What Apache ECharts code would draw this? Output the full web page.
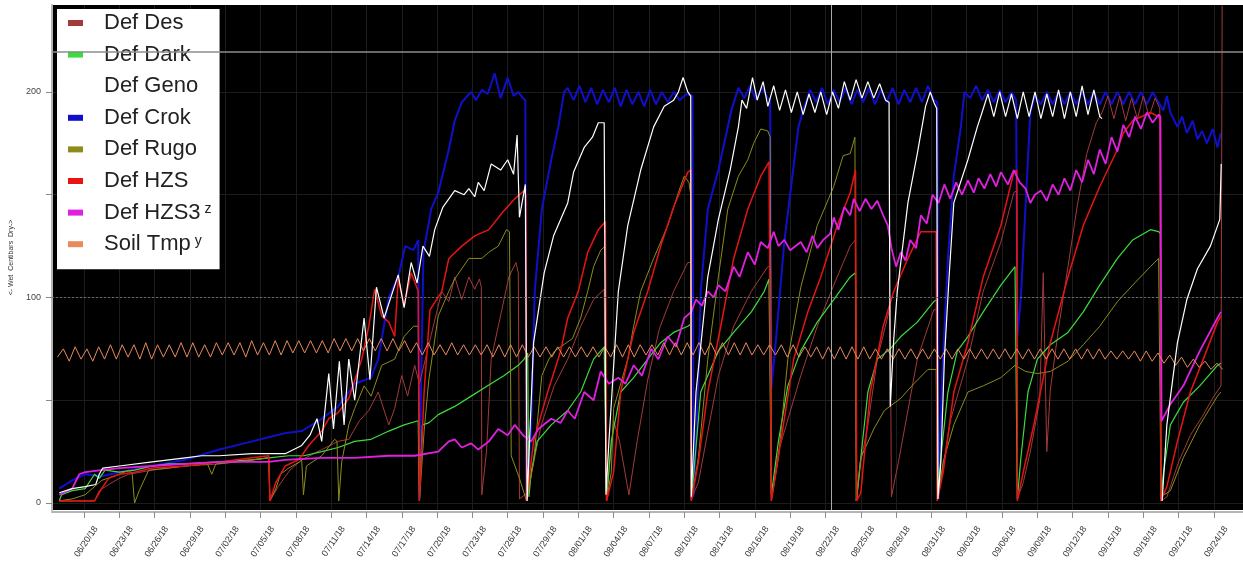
<!DOCTYPE html>
<html>
<head>
<meta charset="utf-8">
<script src="https://cdn.jsdelivr.net/npm/echarts@6/dist/echarts.min.js"></script>
<style>
html, body { margin: 0; padding: 0; background: #fff; }
#tension { width: 1243px; height: 562px; }
</style>
</head>
<body>
<div id="tension"></div>
<script>
// x values are days counted from 06/20/18 00:00, y values are centibars

var tickLabels = [
    '06/20/18','06/23/18','06/26/18','06/29/18','07/02/18','07/05/18','07/08/18',
    '07/11/18','07/14/18','07/17/18','07/20/18','07/23/18','07/26/18','07/29/18',
    '08/01/18','08/04/18','08/07/18','08/10/18','08/13/18','08/16/18','08/19/18',
    '08/22/18','08/25/18','08/28/18','08/31/18','09/03/18','09/06/18','09/09/18',
    '09/12/18','09/15/18','09/18/18','09/21/18','09/24/18'
];

var seriesNames = ['Def Des', 'Def Dark', 'Def Geno', 'Def Crok', 'Def Rugo', 'Def HZS', 'Def HZS3', 'Soil Tmp'];

var desData = [
    [-2.1,1],[0.9,1],[1.3,6],[2.1,9],[3.0,12],[3.8,14],[5.8,16],[8.6,18],[11.5,19],[14.3,21],[15.7,22],[15.8,1],
    [16.5,8],[17.5,16],[18.5,21],[20.2,26],[21.6,30],[22.5,31],[23.4,40],[24.2,45],[25.0,54],[25.9,38],[26.4,46],
    [27.0,62],[27.5,52],[28.1,67],[28.5,58],[29.3,77],[30.4,103],[31.0,98],[31.5,110],[32.1,99],[32.7,110],[33.2,104],
    [33.6,109],[33.76,105],[33.8,4],[34.2,25],[34.6,70],[35.5,94],[36.1,110],[36.7,117],[36.9,112],[37.0,2],[37.7,5],
    [38.85,38],[39.95,57],[41.1,70],[42.2,86],[43.3,99],[44.2,104],[44.36,104],[44.4,2],[45.0,40],[45.5,30],[46.3,4],
    [47.0,30],[47.9,60],[48.9,85],[50.1,103],[51.3,117],[51.55,117],[51.6,2],[52.2,10],[53.9,62],[55.2,86],[56.7,103],
    [58.1,115],[58.35,115],[58.4,2],[59.0,25],[60.9,62],[62.3,86],[63.7,106],[65.1,125],[65.55,128],[65.65,2],[66.0,20],
    [66.6,38],[67.4,70],[68.3,91],[68.5,96],[68.6,3],[69.2,20],[70.8,70],[72.2,94],[72.5,94],[72.55,2],[73.6,40],
    [75.1,70],[76.4,103],[77.9,127],[79.0,151],[79.25,152],[79.3,2],[79.8,10],[80.4,25],[81.2,50],[81.5,112],[81.8,25],
    [82.1,55],[82.8,85],[83.6,115],[84.4,145],[85.2,170],[86.0,185],[86.5,190],[87.0,198],[87.5,187],[88.0,198],
    [88.5,186],[89.0,197],[89.5,187],[90.0,198],[90.5,188],[91.0,197],[91.4,192],[91.5,1],[92.0,3],[93.0,20],[94.0,33],
    [95.0,42],[96.0,52],[96.6,57],[96.7,242]
];

var darkData = [
    [-2.1,1],[-1.9,4],[-1.0,6],[0.1,7],[0.9,14],[1.3,12],[1.8,16],[3.0,15],[4.3,16],[5.8,18],[7.2,19],[8.6,19],
    [11.5,20],[14.3,21],[15.7,22],[17.4,23],[18.7,23],[20.2,25],[21.6,27],[23.0,30],[24.4,31],[25.9,35],[27.2,38],
    [28.4,40],[28.5,1],[28.75,38],[29.3,39],[30.1,43],[31.5,47],[32.9,52],[34.3,57],[35.7,62],[36.9,67],[37.4,70],
    [37.7,73],[37.8,3],[38.0,15],[38.5,30],[39.7,38],[41.1,45],[42.2,54],[43.3,70],[44.2,76],[44.35,76],[44.4,2],
    [44.8,30],[45.6,54],[46.7,61],[47.9,70],[49.0,78],[50.1,83],[51.3,86],[51.55,87],[51.6,2],[51.8,14],[52.4,54],
    [53.9,74],[55.2,83],[56.7,93],[57.8,103],[58.2,109],[58.35,109],[58.4,4],[59.0,30],[59.8,57],[60.9,74],[62.3,88],
    [63.7,99],[65.1,110],[65.55,112],[65.65,2],[66.0,22],[66.6,54],[67.4,70],[68.5,75],[69.4,81],[70.8,88],[72.2,98],
    [72.5,99],[72.55,2],[72.8,22],[73.4,54],[74.2,74],[75.1,81],[76.4,93],[77.9,106],[79.1,115],[79.25,115],[79.3,2],
    [79.6,22],[80.2,54],[81.0,70],[82.1,77],[83.6,83],[84.9,93],[86.3,106],[87.8,119],[89.1,128],[90.6,133],[91.3,132],
    [91.45,131],[91.5,2],[91.7,14],[92.3,38],[93.4,49],[94.8,57],[96.3,67],[96.6,68]
];

var genoData = [
    [-2.1,5],[-1.0,7],[0.1,8],[1.0,9],[1.3,14],[1.6,17],[3.0,18],[5.8,20],[8.6,22],[10.0,23],[11.5,23],[14.3,24],
    [17.1,24],[18.5,28],[19.2,33],[19.8,41],[20.2,30],[20.8,63],[21.2,36],[21.7,69],[22.1,38],[22.5,70],[23.0,50],
    [23.8,90],[24.3,60],[24.85,105],[25.5,90],[26.7,111],[27.2,95],[27.8,117],[28.3,107],[28.8,125],[29.35,120],
    [29.8,133],[30.5,144],[31.5,152],[32.3,150],[32.7,153],[33.2,149],[33.5,156],[34.0,152],[34.6,165],[35.4,162],
    [36.0,167],[36.5,160],[36.8,179],[37.0,139],[37.5,155],[37.65,1],[38.2,78],[39.1,112],[39.9,130],[41.1,146],
    [41.6,161],[42.5,173],[43.2,178],[43.7,185],[44.2,185],[44.35,4],[44.6,30],[45.4,103],[46.2,135],[47.3,162],
    [48.4,183],[49.3,193],[50.1,196],[50.5,200],[50.9,207],[51.3,200],[51.55,198],[51.6,3],[52.0,54],[53.0,110],
    [53.9,138],[54.9,162],[55.6,183],[55.9,196],[56.3,192],[56.8,207],[57.2,196],[57.7,205],[58.1,193],[58.6,203],
    [59.1,191],[59.6,201],[60.1,190],[60.6,200],[61.1,189],[61.6,199],[62.1,190],[62.6,200],[63.1,189],[63.6,200],
    [64.1,192],[64.6,205],[65.1,196],[65.6,206],[66.1,197],[66.6,205],[67.1,197],[67.6,204],[68.1,196],[68.4,195],
    [68.5,47],[68.8,80],[69.1,103],[70.0,146],[70.8,170],[71.5,193],[71.9,200],[72.2,195],[72.45,192],[72.55,2],
    [72.8,20],[73.1,70],[73.5,110],[73.9,146],[75.1,167],[75.9,183],[76.3,190],[76.8,199],[77.3,188],[77.8,200],
    [78.3,188],[78.8,199],[79.3,187],[79.8,200],[80.3,188],[80.8,200],[81.3,187],[81.8,199],[82.3,188],[82.8,201],
    [83.3,187],[83.8,200],[84.3,188],[84.8,203],[85.3,189],[85.8,201],[86.3,188],[86.5,187],[88,'-'],[91.6,1],
    [92.0,38],[92.9,78],[93.7,99],[94.6,114],[95.7,125],[96.5,138],[96.62,165]
];

var crokData = [
    [-2.1,7],[-1.0,11],[0.1,14],[1.5,13],[3.0,15],[5.8,18],[8.6,21],[11.5,26],[14.3,30],[15.7,32],[17.1,34],
    [18.5,35],[20.2,41],[21.6,47],[23.0,58],[24.4,61],[25.0,70],[25.9,100],[26.7,110],[27.3,125],[28.0,123],
    [28.4,128],[28.5,2],[28.65,60],[28.85,122],[29.5,143],[30.1,151],[31.0,172],[31.5,186],[32.1,195],[32.9,200],
    [33.3,196],[33.8,201],[34.3,199],[34.9,209],[35.4,197],[36.0,207],[36.5,198],[36.9,200],[37.3,197],[37.5,196],
    [37.6,2],[38.0,38],[38.3,103],[38.9,143],[39.7,167],[40.3,183],[40.8,200],[41.1,202],[41.6,196],[42.1,203],
    [42.6,195],[43.1,202],[43.6,194],[44.1,201],[44.6,195],[45.1,202],[45.6,193],[46.1,201],[46.6,194],[47.1,200],
    [47.6,193],[48.1,201],[48.6,194],[49.1,200],[49.6,195],[50.1,200],[50.6,196],[51.2,199],[51.7,198],[51.8,3],
    [52.2,60],[52.4,103],[53.0,143],[53.9,162],[55.0,191],[55.6,202],[56.1,197],[56.6,203],[57.1,196],[57.6,202],
    [58.1,197],[58.3,196],[58.4,56],[58.8,80],[59.5,127],[60.7,183],[61.2,193],[61.7,201],[62.2,195],[62.7,202],
    [63.2,194],[63.7,201],[64.2,195],[64.7,202],[65.2,194],[65.7,201],[66.2,195],[66.7,202],[67.2,194],[67.7,201],
    [68.2,195],[68.7,202],[69.2,194],[69.7,201],[70.2,195],[70.7,202],[71.2,195],[71.7,203],[72.2,196],[72.5,195],
    [72.6,2],[72.9,60],[73.4,119],[73.9,159],[74.5,183],[74.8,200],[75.3,197],[75.8,203],[76.3,196],[76.8,201],
    [77.3,195],[77.8,201],[78.3,195],[78.8,200],[79.2,196],[79.3,81],[79.6,100],[80.4,190],[80.8,198],[81.3,194],
    [81.8,200],[82.3,194],[82.8,200],[83.3,194],[83.8,200],[84.3,194],[84.8,200],[85.3,194],[85.8,200],[86.3,194],
    [86.8,200],[87.3,194],[87.8,200],[88.3,194],[88.8,200],[89.3,194],[89.8,200],[90.3,194],[90.8,200],[91.3,195],
    [91.7,191],[92.0,198],[92.3,190],[92.9,183],[93.3,188],[93.7,180],[94.2,186],[94.6,177],[95.0,181],[95.4,175],
    [95.9,182],[96.3,173],[96.6,180]
];

var rugoData = [
    [-2.1,1],[-1.0,2],[0.1,4],[1.5,11],[3.0,14],[3.8,16],[4.1,14],[4.3,0],[4.7,6],[5.5,16],[7.2,17],[8.6,18],
    [10.5,19],[10.86,14],[11.2,19],[13.0,20],[14.3,21],[15.7,22],[15.8,1],[16.3,7],[16.7,14],[17.4,17],[18.3,20],
    [18.5,21],[18.65,4],[18.9,18],[20.2,23],[21.3,31],[21.5,30],[21.65,1],[21.9,20],[22.5,38],[23.0,46],[23.8,57],
    [24.4,52],[25.3,67],[26.4,70],[27.2,81],[28.0,86],[28.4,86],[28.5,1],[28.9,35],[29.3,60],[30.1,91],[31.0,103],
    [31.5,109],[32.7,119],[33.8,119],[34.4,122],[35.2,125],[35.9,133],[36.15,132],[36.3,23],[37.0,12],[37.6,1],
    [38.2,20],[38.9,62],[39.5,70],[40.0,74],[41.5,80],[42.2,90],[42.8,103],[43.3,115],[43.9,123],[44.3,125],[44.4,1],
    [44.8,15],[45.0,46],[46.2,70],[46.7,86],[47.3,103],[48.4,119],[49.6,135],[50.5,151],[51.0,159],[51.4,156],
    [51.55,150],[51.6,1],[52.2,22],[53.0,70],[53.9,110],[54.7,143],[55.6,159],[56.4,167],[56.9,175],[57.5,182],
    [58.1,181],[58.3,178],[58.4,1],[59.0,22],[59.8,70],[60.9,105],[62.3,135],[63.7,154],[64.5,169],[65.1,170],
    [65.5,178],[65.6,1],[66.0,22],[67.1,36],[68.0,45],[69.4,51],[70.5,58],[71.7,65],[72.4,65],[72.5,1],[73.0,20],
    [73.9,38],[75.1,54],[76.4,57],[77.9,61],[79.1,67],[80.0,64],[81.0,63],[82.1,64],[83.6,69],[84.9,77],[86.3,86],
    [87.8,98],[89.1,106],[90.6,115],[91.3,119],[91.45,119],[91.5,3],[92.3,6],[93.4,22],[94.8,38],[96.3,52],[96.6,54]
];

var hzsData = [
    [-2.1,1],[0.9,1],[1.5,7],[2.1,12],[3.0,14],[4.3,15],[5.8,17],[8.6,18],[11.5,20],[14.3,22],[15.7,23],[15.8,1],
    [16.3,10],[17.1,18],[18.2,21],[18.5,23],[19.1,28],[20.2,35],[20.8,41],[21.6,44],[22.5,51],[23.6,70],[24.2,86],
    [24.7,104],[25.3,91],[25.9,88],[26.4,81],[26.7,109],[27.2,96],[27.8,112],[28.4,103],[28.5,1],[28.9,54],[29.4,94],
    [30.4,103],[31.0,119],[32.1,125],[33.2,130],[34.4,133],[35.5,141],[36.6,148],[37.4,152],[37.55,150],[37.6,1],
    [38.2,30],[39.4,54],[40.5,74],[41.1,90],[42.0,103],[42.8,122],[43.7,133],[44.3,137],[44.4,1],[45.0,15],[45.6,54],
    [46.7,83],[47.9,103],[49.0,125],[50.1,144],[51.3,161],[51.55,162],[51.6,1],[52.2,20],[53.0,54],[54.1,86],
    [55.2,119],[56.4,143],[57.5,159],[58.2,166],[58.35,166],[58.4,1],[59.2,30],[60.3,70],[61.5,93],[62.6,110],
    [64.0,135],[65.1,151],[65.55,162],[65.65,1],[66.0,5],[66.8,54],[67.9,86],[68.8,103],[70.0,119],[71.1,132],
    [72.4,132],[72.5,1],[73.0,15],[73.9,54],[75.1,78],[76.4,110],[77.9,135],[79.0,161],[79.25,162],[79.3,1],[79.8,15],
    [80.7,38],[82.1,78],[83.6,110],[84.9,135],[86.3,154],[87.8,172],[88.3,180],[89.1,186],[90.6,190],[91.3,188],
    [91.45,186],[91.5,1],[92.0,8],[92.9,30],[94.0,54],[95.1,70],[96.3,88],[96.6,91]
];

var hzs3Data = [
    [-2.1,4],[-1.0,7],[-0.4,14],[0.1,15],[1.5,16],[3.0,17],[5.8,18],[8.6,19],[11.5,20],[14.3,20],[15.7,20],
    [17.1,21],[20.2,22],[23.0,22],[25.9,23],[28.1,23],[30.1,25],[31.0,30],[31.5,31],[32.1,27],[32.9,29],[33.5,26],
    [34.4,30],[35.2,36],[36.0,33],[36.6,38],[37.3,33],[38.0,30],[38.6,36],[39.7,41],[40.5,39],[41.1,45],[41.7,41],
    [42.5,54],[43.3,50],[43.9,64],[44.6,58],[45.4,61],[46.0,58],[46.7,67],[47.4,62],[48.2,75],[48.8,70],[49.6,81],
    [50.3,76],[51.0,90],[51.6,93],[52.0,99],[52.5,96],[53.0,103],[53.5,100],[53.9,106],[54.5,103],[55.2,115],
    [55.7,110],[56.4,122],[57.0,116],[57.5,127],[58.1,124],[58.6,132],[59.0,125],[59.5,128],[60.0,123],[60.9,127],
    [61.4,122],[61.9,130],[62.3,124],[62.8,128],[63.4,131],[63.7,139],[64.1,133],[64.6,144],[65.1,140],[65.4,148],
    [65.9,142],[66.4,148],[66.9,143],[67.4,147],[67.9,140],[68.3,135],[68.6,124],[69.0,115],[69.4,122],[69.8,118],
    [70.2,128],[70.7,124],[71.1,140],[71.6,136],[72.1,150],[72.6,146],[73.1,155],[73.6,148],[74.1,156],[74.6,150],
    [75.1,157],[75.6,151],[76.0,158],[76.5,153],[77.0,160],[77.5,154],[77.9,161],[78.5,155],[79.0,162],[79.5,156],
    [80.0,153],[80.4,146],[80.8,150],[81.3,152],[81.8,147],[82.3,155],[82.8,150],[83.3,158],[83.8,152],[84.3,162],
    [84.8,156],[85.3,167],[85.8,160],[86.3,172],[86.8,165],[87.3,178],[87.8,171],[88.3,184],[88.8,178],[89.3,188],
    [89.8,182],[90.3,190],[90.8,185],[91.3,189],[91.45,188],[91.55,40],[92.3,48],[93.4,57],[94.8,74],[96.3,90],[96.6,93]
];

// soil temperature, read twice a day (night low, afternoon high) from 06/17 18:00
var soilStart = -2.25;
var soilStep = 0.5;
var soilVals = [
    71,75,69,76,70,75,69,76,70,77,
    70,77,71,77,70,78,70,77,71,77,
    71,78,71,78,71,77,71,78,72,78,
    72,78,71,79,72,78,72,79,72,79,
    73,79,73,79,73,79,73,80,74,80,
    74,80,74,80,74,80,74,80,74,79,
    73,78,72,78,72,77,72,78,72,77,
    72,77,72,77,71,77,71,77,71,77,
    71,76,71,76,71,76,71,76,71,76,
    71,76,71,76,71,77,71,77,71,77,
    72,77,72,78,72,78,72,78,72,78,
    72,78,72,78,72,78,72,78,72,77,
    72,77,72,77,71,77,71,76,71,76,
    70,76,70,76,70,76,70,76,70,75,
    70,75,70,75,70,75,70,75,70,75,
    70,75,70,75,70,75,70,75,70,75,
    70,75,70,75,70,75,70,75,70,75,
    70,75,70,75,70,75,70,75,70,74,
    70,74,70,74,69,74,69,73,68,72,
    67,71,66,70,66,69,65,68,65
];

// reference lines: upper limit, 100 cb line, date marker
var upperLine = 219.5;
var midLine = 100;
var markerDay = 63.45;

var seriesColors = ['#a33a3a', '#3ddc3d', '#ffffff', '#1010cc', '#8c8c1c', '#e81414', '#e020e0', '#e88a5c'];
var seriesWidths = [1, 1.2, 1.2, 2, 1, 1.5, 1.8, 1];
var seriesZ = [2, 2, 3, 1, 2, 2, 2, 2];


var EchartsSoilTension = function() {

    var _soilTensionChart = function() {
        if (typeof echarts == 'undefined') {
            console.warn('Warning - echarts.min.js is not loaded.');
            return;
        }

        var chart_element = document.getElementById('tension');
        if (!chart_element) {
            return;
        }

        var chart = echarts.init(chart_element, null, { renderer: 'canvas' });

        var soilData = soilVals.map(function(v, i) {
            return [soilStart + i * soilStep, v];
        });
        var allData = [desData, darkData, genoData, crokData, rugoData, hzsData, hzs3Data, soilData];

        var tickDays = tickLabels.map(function(l, i) { return i * 3; });

        var series = seriesNames.map(function(name, i) {
            return {
                name: name,
                type: 'line',
                data: allData[i],
                showSymbol: false,
                symbol: 'none',
                z: seriesZ[i],
                lineStyle: { color: seriesColors[i], width: seriesWidths[i] },
                itemStyle: { color: seriesColors[i] }
            };
        });

        // Guide lines drawn with the soil series
        series[7].markLine = {
            silent: true,
            symbol: 'none',
            label: { show: false },
            data: [
                { yAxis: upperLine, lineStyle: { color: '#8c8c8c', width: 1.5, type: 'solid' } },
                { yAxis: midLine, lineStyle: { color: '#6a6a6a', width: 1, type: [2, 2] } },
                { xAxis: markerDay, lineStyle: { color: '#a8a8a8', width: 1, type: 'solid' } }
            ]
        };

        chart.setOption({
            animation: false,
            backgroundColor: '#ffffff',

            textStyle: {
                fontFamily: 'Liberation Sans, Arial, sans-serif'
            },

            grid: {
                left: 50,
                right: 0,
                top: 5,
                bottom: 52,
                show: true,
                backgroundColor: '#000000',
                borderWidth: 0
            },

            legend: {
                data: seriesNames,
                orient: 'vertical',
                left: 57,
                top: 9,
                icon: 'rect',
                itemWidth: 15,
                itemHeight: 6,
                itemGap: 9.6,
                padding: [3, 8, 14, 11],
                backgroundColor: '#ffffff',
                selectedMode: false,
                textStyle: {
                    fontSize: 22,
                    lineHeight: 20,
                    color: '#222',
                    padding: [0, 0, 0, 16],
                    rich: {
                        sup: { fontSize: 14, lineHeight: 14, verticalAlign: 'top', color: '#222', padding: [0, 0, 0, 4] }
                    }
                },
                formatter: function(name) {
                    if (name === 'Def HZS3') return 'Def HZS3{sup|z}';
                    if (name === 'Soil Tmp') return 'Soil Tmp{sup|y}';
                    return name;
                }
            },

            xAxis: {
                type: 'value',
                min: -2.714,
                max: 98.47,
                offset: 2,
                axisLine: { show: true, onZero: false, lineStyle: { color: '#b4b4b4', width: 2 } },
                axisTick: { show: true, customValues: tickDays, length: 6, lineStyle: { color: '#8a8a8a' } },
                axisLabel: {
                    customValues: tickDays,
                    rotate: 56,
                    fontSize: 9,
                    color: '#333',
                    margin: 7,
                    verticalAlign: 'top',
                    padding: [10, 0, 0, 0],
                    formatter: function(v) {
                        return tickLabels[Math.round(v / 3)] || '';
                    }
                },
                splitLine: { show: true, lineStyle: { color: '#1c1c1c', width: 1 } }
            },

            yAxis: {
                type: 'value',
                min: -3.4,
                max: 242.3,
                name: '<- Wet  Centibars  Dry->',
                nameLocation: 'middle',
                nameGap: 37,
                nameTextStyle: { fontSize: 7, color: '#333' },
                axisLine: { show: true, onZero: false, lineStyle: { color: '#b4b4b4', width: 2 } },
                axisTick: { show: true, customValues: [0, 50, 100, 150, 200], length: 6, lineStyle: { color: '#8a8a8a' } },
                axisLabel: { customValues: [0, 100, 200], fontSize: 9, color: '#444', margin: 11 },
                splitLine: { show: true, lineStyle: { color: '#1c1c1c', width: 1 } }
            },

            series: series
        });

        window.addEventListener('resize', function() {
            chart.resize();
        });
    };

    return {
        init: function() {
            _soilTensionChart();
        }
    };
}();

document.addEventListener('DOMContentLoaded', function() {
    EchartsSoilTension.init();
});
</script>
</body>
</html>
